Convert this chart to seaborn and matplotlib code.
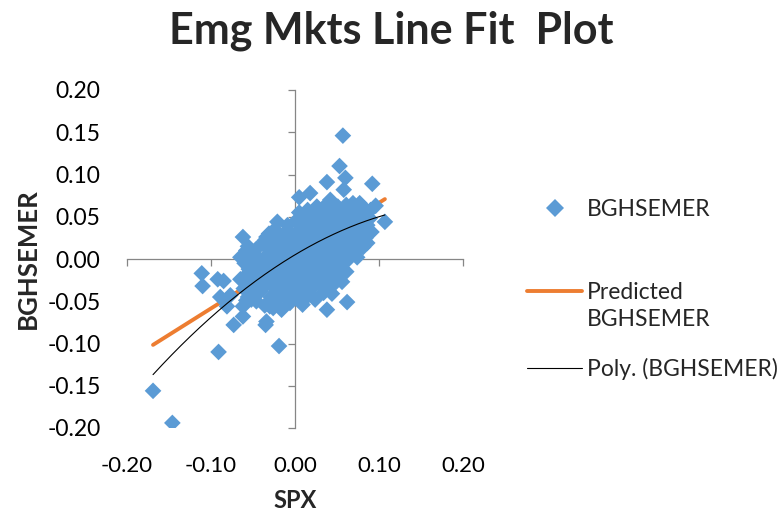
import numpy as np
import pandas as pd
import matplotlib
matplotlib.use("Agg")
import matplotlib.pyplot as plt
import seaborn as sns
from matplotlib.lines import Line2D
from matplotlib.ticker import FormatStrFormatter

# ---- data ----
spx = [
    # outliers / sparse points
    -0.169, -0.146, -0.111, -0.110, -0.092, -0.085, -0.091, -0.073, -0.081, -0.077,
    -0.089, -0.065, -0.065, -0.054, -0.062, -0.062, -0.062, -0.058, -0.052, -0.050,
    -0.035, -0.034, -0.030, -0.030, -0.019, -0.042, -0.034, -0.021, 0.009, 0.006,
    0.018, 0.034, 0.038, 0.044, 0.056, 0.062, 0.086, 0.107, 0.057, 0.053,
    0.060, 0.038, 0.058, 0.092, 0.018, 0.005, 0.042, 0.026, 0.077, 0.096,
    0.056, 0.080, 0.090, 0.085, 0.070,
    # dense core
    -0.061, -0.059, -0.060, -0.058,
    -0.056, -0.054, -0.055, -0.053, -0.056,
    -0.049, -0.051, -0.048, -0.050,
    -0.046, -0.044, -0.045, -0.043, -0.046,
    -0.041, -0.039, -0.040, -0.038,
    -0.036, -0.034, -0.035, -0.033, -0.036,
    -0.029, -0.031, -0.030, -0.028, -0.031,
    -0.026, -0.024, -0.025, -0.023, -0.026, -0.024,
    -0.021, -0.019, -0.020, -0.018, -0.021,
    -0.016, -0.014, -0.015, -0.013, -0.016, -0.014,
    -0.011, -0.009, -0.010, -0.008, -0.011, -0.009,
    -0.006, -0.004, -0.005, -0.003, -0.006, -0.004,
    0.001, -0.001, 0.000, 0.002, -0.001, 0.001,
    0.004, 0.006, 0.005, 0.007, 0.004, 0.006, 0.005,
    0.011, 0.009, 0.010, 0.012, 0.009, 0.011,
    0.014, 0.016, 0.015, 0.017, 0.014, 0.016, 0.015,
    0.021, 0.019, 0.020, 0.022, 0.019, 0.021,
    0.024, 0.026, 0.025, 0.027, 0.024, 0.026, 0.025,
    0.031, 0.029, 0.030, 0.032, 0.029, 0.031,
    0.034, 0.036, 0.035, 0.037, 0.034, 0.036, 0.035,
    0.041, 0.039, 0.040, 0.042, 0.039, 0.041,
    0.044, 0.046, 0.045, 0.047, 0.044, 0.046,
    0.051, 0.049, 0.050, 0.052, 0.049, 0.051,
    0.054, 0.056, 0.055, 0.057, 0.054,
    0.061, 0.059, 0.060, 0.062, 0.059, 0.061,
    0.064, 0.066, 0.065, 0.067, 0.064,
    0.071, 0.069, 0.070, 0.072, 0.069,
    0.074, 0.076, 0.075, 0.077,
    0.081, 0.079, 0.080, 0.082,
    0.084, 0.086, 0.085,
    0.091, 0.089,
]
bghsemer = [
    -0.156, -0.194, -0.017, -0.032, -0.024, -0.026, -0.110, -0.078, -0.056, -0.043,
    -0.045, -0.024, 0.002, 0.007, 0.026, -0.068, -0.056, -0.049, -0.048, -0.045,
    -0.078, -0.074, -0.052, -0.056, -0.103, -0.007, 0.026, 0.044, -0.054, -0.043,
    -0.035, -0.029, -0.060, -0.041, -0.027, -0.051, 0.019, 0.044, 0.146, 0.110,
    0.096, 0.091, 0.082, 0.089, 0.078, 0.073, 0.070, 0.062, 0.066, 0.063,
    0.017, 0.062, 0.058, 0.050, 0.055,
    -0.035, -0.020, -0.005, 0.010,
    -0.045, -0.028, -0.012, 0.004, 0.015,
    -0.040, -0.022, -0.008, 0.008,
    -0.050, -0.030, -0.015, 0.000, 0.012,
    -0.038, -0.020, -0.004, 0.018,
    -0.055, -0.030, -0.012, 0.005, 0.022,
    -0.045, -0.025, -0.010, 0.008, 0.030,
    -0.058, -0.035, -0.018, 0.000, 0.015, 0.035,
    -0.048, -0.030, -0.012, 0.004, 0.020,
    -0.060, -0.038, -0.020, -0.005, 0.010, 0.028,
    -0.045, -0.025, -0.008, 0.006, 0.020, 0.040,
    -0.052, -0.032, -0.015, 0.000, 0.015, 0.030,
    -0.040, -0.022, -0.006, 0.008, 0.022, 0.045,
    -0.048, -0.030, -0.012, 0.002, 0.018, 0.035, 0.055,
    -0.038, -0.020, -0.004, 0.012, 0.028, 0.048,
    -0.045, -0.026, -0.010, 0.006, 0.022, 0.040, 0.058,
    -0.034, -0.016, 0.000, 0.016, 0.032, 0.050,
    -0.048, -0.024, -0.006, 0.010, 0.026, 0.044, 0.060,
    -0.030, -0.012, 0.004, 0.020, 0.036, 0.054,
    -0.040, -0.018, 0.000, 0.014, 0.030, 0.048, 0.062,
    -0.025, -0.006, 0.010, 0.025, 0.042, 0.058,
    -0.032, -0.012, 0.004, 0.020, 0.036, 0.052,
    -0.018, 0.000, 0.016, 0.032, 0.046, 0.062,
    -0.008, 0.010, 0.026, 0.040, 0.056,
    -0.015, 0.004, 0.020, 0.035, 0.050, 0.064,
    0.000, 0.015, 0.030, 0.045, 0.058,
    0.008, 0.024, 0.040, 0.055, 0.066,
    0.002, 0.018, 0.034, 0.050,
    0.014, 0.030, 0.045, 0.060,
    0.025, 0.040, 0.055,
    0.032, 0.048,
]
pred_intercept = 0.004
pred_slope = 0.625
poly_coefs = [-1.445, 0.595, 0.005]   # quadratic trend line

x_ticks = [-0.20, -0.10, 0.00, 0.10, 0.20]
y_ticks = [-0.20, -0.15, -0.10, -0.05, 0.00, 0.05, 0.10, 0.15, 0.20]

title = "Emg Mkts Line Fit  Plot"
x_label = "SPX"
y_label = "BGHSEMER"
legend_labels = ["BGHSEMER", "Predicted", "BGHSEMER", "Poly. (BGHSEMER)"]

BLUE = "#5B9BD5"
ORANGE = "#ED7D31"
GRAY = "#868686"

sns.set_theme(style="white")
plt.rcParams["font.family"] = ["Lato", "DejaVu Sans"]
plt.rcParams["axes.unicode_minus"] = False

fig = plt.figure(figsize=(7.82, 5.14), dpi=100)
ax = fig.add_axes([127 / 782, 1 - 428 / 514, 336 / 782, 338 / 514])

df = pd.DataFrame({"SPX": spx, "BGHSEMER": bghsemer})
df["Predicted"] = pred_intercept + pred_slope * df["SPX"]

sns.lineplot(data=df, x="SPX", y="Predicted", color=ORANGE, lw=2.8,
             estimator=None, sort=True, ax=ax, zorder=2,
             solid_capstyle="round", legend=False)
sns.scatterplot(data=df, x="SPX", y="BGHSEMER", marker="D", s=72, color=BLUE,
                edgecolor="none", linewidth=0, ax=ax, zorder=3, legend=False)
xs = np.linspace(df["SPX"].min(), df["SPX"].max(), 200)
ax.plot(xs, np.polyval(poly_coefs, xs), color="black", lw=0.8, zorder=4)

ax.set_xlim(-0.2, 0.2)
ax.set_ylim(-0.2, 0.2)
ax.set_xlabel("")
ax.set_ylabel("")
for s in ["top", "right"]:
    ax.spines[s].set_visible(False)
for s in ["left", "bottom"]:
    ax.spines[s].set_position(("data", 0))
    ax.spines[s].set_color(GRAY)
    ax.spines[s].set_linewidth(0.9)
ax.set_xticks(x_ticks)
ax.set_yticks(y_ticks)
ax.tick_params(axis="both", direction="out", length=5, width=0.9, color=GRAY,
               bottom=True, left=True, labelbottom=False, labelleft=False)

# tick labels at the low side (Excel style)
secx = ax.secondary_xaxis(0)
secx.set_xticks(x_ticks)
secx.xaxis.set_major_formatter(FormatStrFormatter("%.2f"))
secx.tick_params(length=0, pad=20, labelsize=16, colors="black")
secy = ax.secondary_yaxis(0)
secy.set_yticks(y_ticks)
secy.yaxis.set_major_formatter(FormatStrFormatter("%.2f"))
secy.tick_params(length=0, pad=19, labelsize=16.5, colors="black")
for sec in (secx, secy):
    for sp in sec.spines.values():
        sp.set_visible(False)

fig.text(0.5, 1 - 31 / 514, title, ha="center", va="center", fontsize=31,
         fontweight="bold")
fig.text(28 / 782, 1 - 259 / 514, y_label, rotation=90, ha="center", va="center",
         fontsize=18.5, fontweight="bold")
fig.text(295 / 782, 1 - 500 / 514, x_label, ha="center", va="center",
         fontsize=17, fontweight="bold")

h_pts = Line2D([], [], marker="D", color=BLUE, linestyle="none", markersize=9.5,
               markeredgewidth=0)
h_pred = Line2D([], [], color=ORANGE, lw=2.8, solid_capstyle="round")
h_blank = Line2D([], [], color="none", lw=0)
h_poly = Line2D([], [], color="black", lw=0.8)
common = dict(loc="center left", frameon=False, fontsize=16.5, handlelength=2.4,
              handletextpad=0.2, borderpad=0, borderaxespad=0)
fig.legend([h_pts], [legend_labels[0]],
           bbox_to_anchor=(527 / 782, 1 - 210 / 514), **common)
fig.legend([h_pred, h_blank], legend_labels[1:3], labelspacing=0.25,
           bbox_to_anchor=(527 / 782, 1 - 306 / 514), **common)
fig.legend([h_poly], [legend_labels[3]],
           bbox_to_anchor=(527 / 782, 1 - 369 / 514), **common)

fig.savefig("out.png", dpi=100)
